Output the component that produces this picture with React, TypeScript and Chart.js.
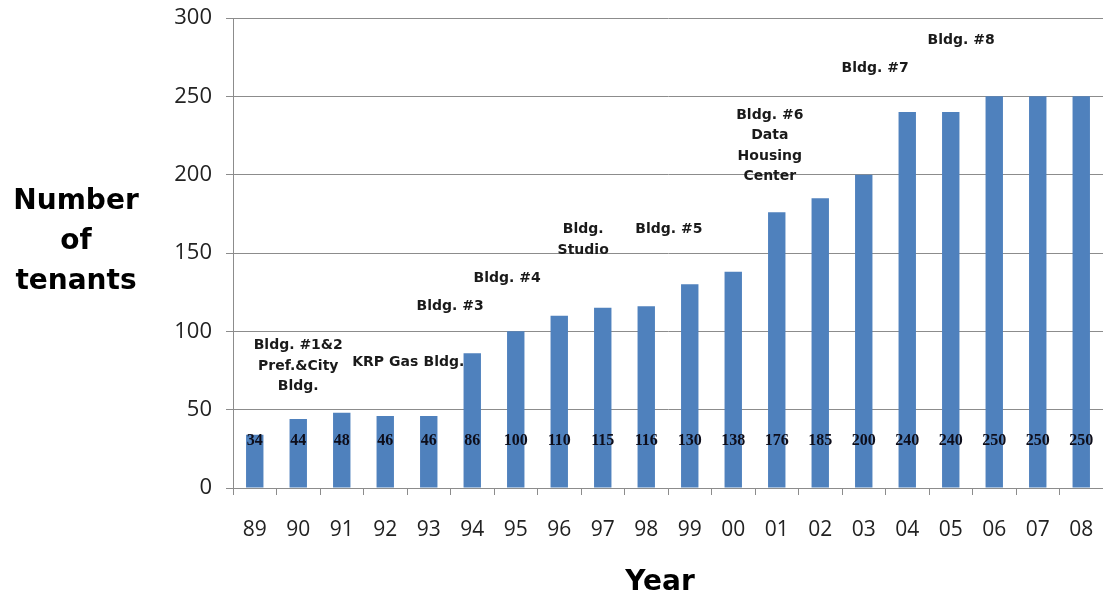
import React, { useEffect, useRef } from "react";
import { Chart, registerables } from "chart.js";

Chart.register(...registerables);

const years = ["89","90","91","92","93","94","95","96","97","98","99","00","01","02","03","04","05","06","07","08"];
const tenants = [34,44,48,46,46,86,100,110,115,116,130,138,176,185,200,240,240,250,250,250];
const yTicks = [0,50,100,150,200,250,300];
const valueLabelLevel = 30;

// annotation: lines, anchored at a (fractional) category index and a value on the y scale
const annotations = [
  { lines: ["Bldg. #1&2", "Pref.&City", "Bldg."], at: 1.0, value: 91 },
  { lines: ["KRP Gas"], at: 3.0, value: 80 },
  { lines: ["Bldg."], at: 4.35, value: 80 },
  { lines: ["Bldg. #3"], at: 4.49, value: 116 },
  { lines: ["Bldg. #4"], at: 5.8, value: 134 },
  { lines: ["Bldg.", "Studio"], at: 7.55, value: 165 },
  { lines: ["Bldg. #5"], at: 9.52, value: 165 },
  { lines: ["Bldg. #6", "Data", "Housing", "Center"], at: 11.84, value: 238 },
  { lines: ["Bldg. #7"], at: 14.26, value: 268 },
  { lines: ["Bldg. #8"], at: 16.24, value: 286 },
];

const GRID = "#8c8c8c";

export default function App() {
  const ref = useRef<HTMLCanvasElement>(null);
  useEffect(() => {
    document.body.style.margin = "0";
    const canvas = ref.current!;
    const overlay = {
      id: "overlay",
      afterDatasetsDraw(chart: any) {
        const ctx = chart.ctx;
        const xs = chart.scales.x;
        const ys = chart.scales.y;
        const step = xs.getPixelForValue(1) - xs.getPixelForValue(0);
        ctx.save();
        // value labels
        ctx.fillStyle = "#0d0d1a";
        ctx.font = "bold 16px 'Liberation Serif'";
        ctx.textAlign = "center";
        ctx.textBaseline = "middle";
        tenants.forEach((v, i) => {
          ctx.fillText(String(v), xs.getPixelForValue(i), ys.getPixelForValue(valueLabelLevel));
        });
        // annotations
        ctx.font = "bold 14px 'DejaVu Sans'";
        ctx.fillStyle = "#1a1a1a";
        annotations.forEach((a) => {
          const x = xs.getPixelForValue(0) + a.at * step;
          const y0 = ys.getPixelForValue(a.value);
          a.lines.forEach((l, k) => ctx.fillText(l, x, y0 + k * 20.5));
        });
        // axis titles
        ctx.fillStyle = "#000";
        ctx.font = "bold 28px 'DejaVu Sans'";
        const ty = ys.getPixelForValue(150);
        ["Number", "of", "tenants"].forEach((l, k) => ctx.fillText(l, 76, ty - 51 + k * 40));
        ctx.font = "bold 28px 'DejaVu Sans'";
        ctx.fillText("Year", 660, 583);
        ctx.restore();
      },
    };
    const chart = new Chart(canvas, {
      type: "bar",
      data: {
        labels: years,
        datasets: [
          {
            data: tenants,
            backgroundColor: "#4F81BD",
            categoryPercentage: 1,
            barPercentage: 0.4,
          },
        ],
      },
      options: {
        animation: false,
        responsive: false,
        maintainAspectRatio: false,
        layout: { padding: { top: 18, right: 0, left: 0, bottom: 0 } },
        plugins: { legend: { display: false }, tooltip: { enabled: false } },
        scales: {
          x: {
            grid: { display: true, drawOnChartArea: false, drawTicks: true, tickLength: 7, color: GRID, offset: true },
            border: { display: true, color: GRID },
            ticks: { color: "#222", font: { family: "'Open Sans'", size: 21 }, padding: 22, maxRotation: 0, autoSkip: false },
            afterFit: (s: any) => { s.height = 112; s.paddingLeft = 0; s.paddingRight = 0; },
          },
          y: {
            min: 0,
            max: 300,
            afterBuildTicks: (s: any) => { s.ticks = yTicks.map((v) => ({ value: v })); },
            grid: { color: GRID, tickLength: 7 },
            border: { display: true, color: GRID },
            ticks: { color: "#222", font: { family: "'Open Sans'", size: 22 }, padding: 14 },
            afterFit: (s: any) => { s.width = 233; s.paddingTop = 0; s.paddingBottom = 0; },
          },
        },
      },
      plugins: [overlay],
    });
    return () => chart.destroy();
  }, []);
  return (
    <div style={{ width: 1103, height: 600 }}>
      <canvas ref={ref} width={1103} height={600} style={{ display: "block" }} />
    </div>
  );
}
